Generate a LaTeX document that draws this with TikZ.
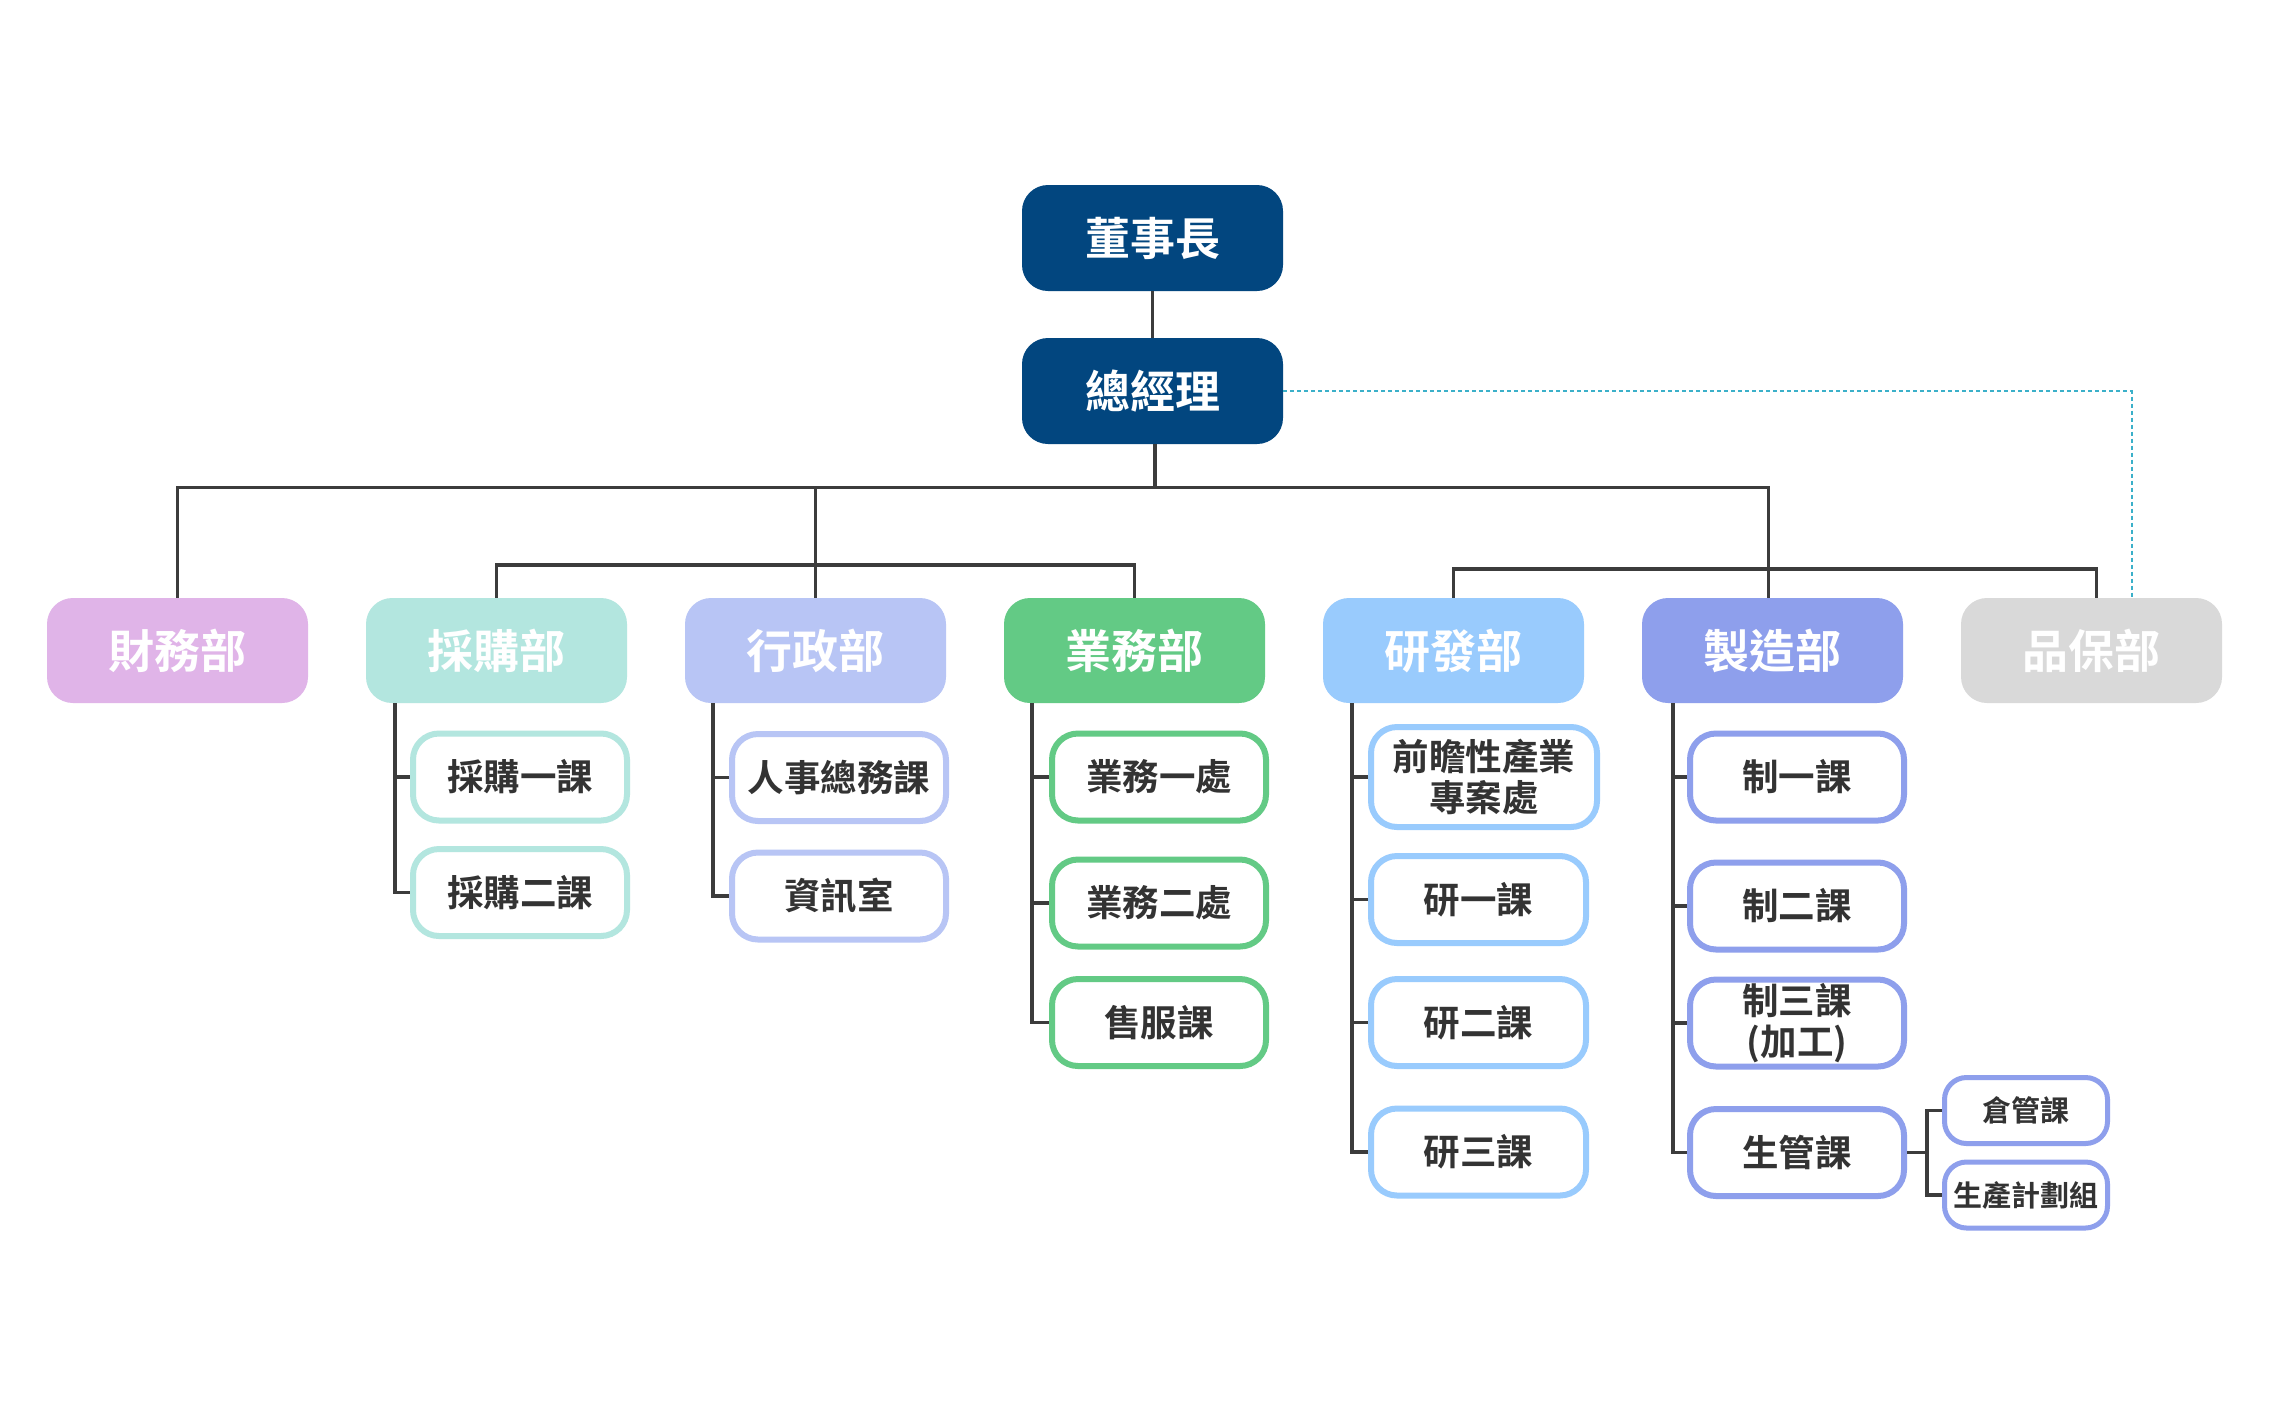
\documentclass[tikz,border=0pt]{standalone}
\usepackage{fontspec}
\newfontfamily\cjk{Noto Sans CJK TC}[BoldFont={Noto Sans CJK TC Bold}]
\definecolor{navy}{HTML}{02467F}
\definecolor{cfin}{HTML}{E0B4E8}
\definecolor{cpur}{HTML}{B3E6DF}
\definecolor{cadm}{HTML}{B8C5F5}
\definecolor{csal}{HTML}{63CA85}
\definecolor{crnd}{HTML}{99CBFD}
\definecolor{cman}{HTML}{8E9FEC}
\definecolor{cqa}{HTML}{D9D9D9}
\definecolor{cteal}{HTML}{3BB0C9}
\definecolor{cline}{HTML}{3C3C3C}
\definecolor{ctext}{HTML}{333333}
\tikzset{
  topbox/.style={rectangle, rounded corners=26pt, fill=navy, text=white,
    minimum width=261pt, minimum height=106pt, inner sep=0pt,
    font=\cjk\bfseries\fontsize{45}{51}\selectfont},
  deptbox/.style={rectangle, rounded corners=26pt, fill=#1, text=white,
    minimum width=261pt, minimum height=105pt, inner sep=0pt,
    font=\cjk\bfseries\fontsize{46}{52}\selectfont},
  subbox/.style={rectangle, rounded corners=26pt, draw=#1, line width=6pt, fill=white,
    text=ctext, minimum width=214pt, minimum height=87pt, inner sep=0pt, align=center,
    font=\cjk\bfseries\fontsize{36.5}{41}\selectfont},
  smallbox/.style={rectangle, rounded corners=22pt, draw=#1, line width=5pt, fill=white,
    text=ctext, minimum width=163pt, minimum height=66pt, inner sep=0pt, align=center,
    font=\cjk\bfseries\fontsize{29}{33}\selectfont},
  conn/.style={draw=cline, line width=3.5pt},
  dotconn/.style={draw=cteal, line width=2pt, dash pattern=on 4pt off 3pt},
}
\begin{document}
\begin{tikzpicture}[x=1pt,y=-1pt]
\useasboundingbox[fill=white] (0,0) rectangle (2269,1414);
% top
\node[topbox] (ch) at (1152.5,238) {董事長};
\node[topbox] (gm) at (1152.5,391) {總經理};
% departments
\node[deptbox=cfin] (d1) at (177.5,650.5) {財務部};
\node[deptbox=cpur] (d2) at (496.5,650.5) {採購部};
\node[deptbox=cadm] (d3) at (815.5,650.5) {行政部};
\node[deptbox=csal] (d4) at (1134.5,650.5) {業務部};
\node[deptbox=crnd] (d5) at (1453.5,650.5) {研發部};
\node[deptbox=cman] (d6) at (1772.5,650.5) {製造部};
\node[deptbox=cqa]  (d7) at (2091.5,650.5) {品保部};
% children
\node[subbox=cpur] (p1) at (520,777) {採購一課};
\node[subbox=cpur] (p2) at (520,892.5) {採購二課};
\node[subbox=cadm] (a1) at (839,777.5) {人事總務課};
\node[subbox=cadm] (a2) at (839,896) {資訊室};
\node[subbox=csal] (s1) at (1159,777) {業務一處};
\node[subbox=csal] (s2) at (1159,903) {業務二處};
\node[subbox=csal] (s3) at (1159,1022.5) {售服課};
\node[subbox=crnd, minimum width=226pt, minimum height=100pt] (r0) at (1484,777) {前瞻性產業\\專案處};
\node[subbox=crnd, minimum width=215pt] (r1) at (1478.5,899.5) {研一課};
\node[subbox=crnd, minimum width=215pt] (r2) at (1478.5,1022.5) {研二課};
\node[subbox=crnd, minimum width=215pt] (r3) at (1478.5,1152) {研三課};
\node[subbox=cman] (m1) at (1797,777) {制一課};
\node[subbox=cman] (m2) at (1797,906) {制二課};
\node[subbox=cman] (m3) at (1797,1023) {制三課\\(加工)};
\node[subbox=cman] (m4) at (1797,1152.5) {生管課};
\node[smallbox=cman] (g1) at (2026,1110.5) {倉管課};
\node[smallbox=cman] (g2) at (2026,1195) {生產計劃組};
% connectors top
\coordinate (bus) at (1155,487.5);
\coordinate (busl) at (815.5,565);
\coordinate (busr) at (1768,569);
\draw[conn] (ch.south) -- (gm.north);
\draw[conn] ([xshift=2.5pt]gm.south) -- (bus);
\draw[conn] (d1.north) -- (d1.north |- bus) -- ([xshift=-4pt]d6.north |- bus) -- ([xshift=-4pt]d6.north);
\draw[conn] (d3.north) -- (d3.north |- bus);
\draw[conn] (d2.north) -- (d2.north |- busl) -- (d4.north |- busl) -- (d4.north);
\draw[conn] (d5.north) -- (d5.north |- busr) -- ([xshift=5pt]d7.north |- busr) -- ([xshift=5pt]d7.north);
\draw[dotconn] (gm.east) -| ([xshift=40pt]d7.north);
% children connectors
\draw[conn] ([xshift=29pt]d2.south west) |- (p2.west);
\draw[conn] ([xshift=29pt]d2.south west) |- (p1.west);
\draw[conn] ([xshift=28pt]d3.south west) |- (a2.west);
\draw[conn] ([xshift=28pt]d3.south west) |- (a1.west);
\draw[conn] ([xshift=28pt]d4.south west) |- (s3.west);
\draw[conn] ([xshift=28pt]d4.south west) |- (s2.west);
\draw[conn] ([xshift=28pt]d4.south west) |- (s1.west);
\draw[conn] ([xshift=29pt]d5.south west) |- (r3.west);
\draw[conn] ([xshift=29pt]d5.south west) |- (r2.west);
\draw[conn] ([xshift=29pt]d5.south west) |- (r1.west);
\draw[conn] ([xshift=29pt]d5.south west) |- (r0.west);
\draw[conn] ([xshift=31pt]d6.south west) |- (m4.west);
\draw[conn] ([xshift=31pt]d6.south west) |- (m3.west);
\draw[conn] ([xshift=31pt]d6.south west) |- (m2.west);
\draw[conn] ([xshift=31pt]d6.south west) |- (m1.west);
\coordinate (j) at ([xshift=20pt]m4.east);
\draw[conn] (m4.east) -- (j);
\draw[conn] (g1.west) -| (j) |- (g2.west);
\end{tikzpicture}
\end{document}
